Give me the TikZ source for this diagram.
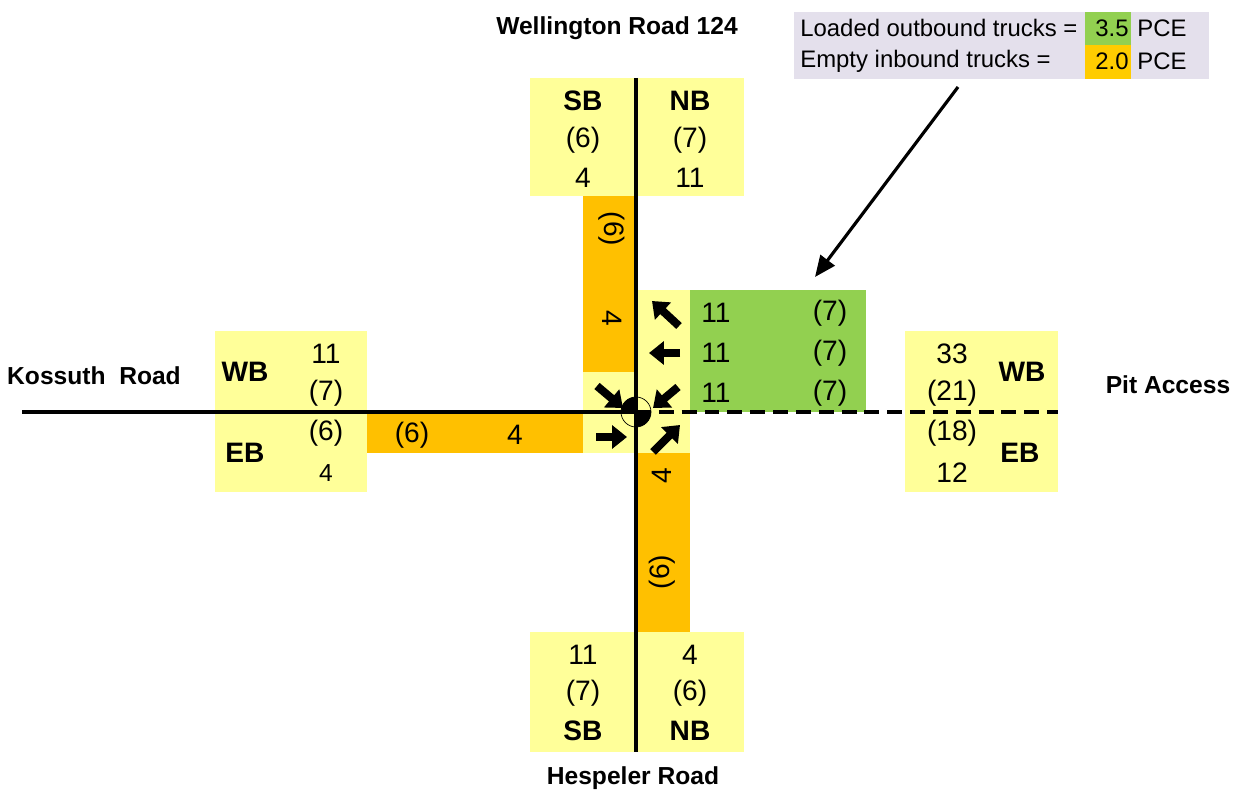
\documentclass[tikz,border=0pt]{standalone}
\usepackage{fontspec}
\setmainfont{Liberation Sans}
\usepackage{xcolor}
\usetikzlibrary{arrows.meta}

\definecolor{boxyellow}{HTML}{FFFF99}
\definecolor{trkorange}{HTML}{FFC000}
\definecolor{trkgreen}{HTML}{92D050}
\definecolor{legendbg}{HTML}{E4E0EC}
\definecolor{legendorange}{HTML}{FFCC00}

\begin{document}
\begin{tikzpicture}[
    x=0.02cm, y=-0.02cm,
    num/.style = {inner sep=0pt, font=\fontsize{16}{18}\selectfont},
    dir/.style = {num, font=\bfseries\fontsize{16}{18}\selectfont},
    road/.style = {inner sep=0pt, font=\bfseries\fontsize{14}{16}\selectfont},
    legtext/.style = {inner sep=0pt, anchor=west, font=\fontsize{13.6}{16}\selectfont},
    roadline/.style = {line width=2pt},
    turn/.style = {line width=4.6pt, -{Triangle[width=13pt,length=8.5pt]}},
    pointer/.style = {line width=1.8pt, -{Triangle[width=10pt,length=12pt]}}
  ]
    \useasboundingbox (0,0) rectangle (1233,804);

    % boxes
    \fill[boxyellow] (530,78) rectangle (744,196);   % north approach
    \fill[boxyellow] (530,632) rectangle (744,752);  % south approach
    \fill[boxyellow] (215,331) rectangle (367,492);  % west approach
    \fill[boxyellow] (905,331) rectangle (1058,492); % east approach
    \fill[boxyellow] (583,372) rectangle (636,453);
    \fill[boxyellow] (636,290) rectangle (690,453);
    \fill[trkorange] (583,196) rectangle (636,372);
    \fill[trkorange] (367,412) rectangle (583,453);
    \fill[trkorange] (636,453) rectangle (690,632);
    \fill[trkgreen] (690,290) rectangle (866,412);

    % roads
    \coordinate (north end) at (636,78);
    \coordinate (south end) at (636,752);
    \coordinate (west end) at (22,412);
    \coordinate (east end) at (1058,412);
    \coordinate (centre) at (636,412);
    \draw[roadline] (north end) -- (south end);
    \draw[roadline] (west end) -- (centre);
    \draw[roadline, dash pattern=on 8.5pt off 4.5pt] (centre) -- (east end);

    % road names
    \node[road] (wellington) at (617,28) {Wellington Road 124};
    \node[road] (hespeler) at (633,778) {Hespeler Road};
    \node[road] (kossuth) at (94,376) {Kossuth\ \ Road};
    \node[road] (pit) at (1168,385) {Pit Access};

    % north approach
    \node[dir] (sb top) at (583,101) {SB};
    \node[num] (sb top pk) at (583,140) {(6)};
    \node[num] (sb top am) at (583,178) {4};
    \node[dir] (nb top) at (690,101) {NB};
    \node[num] (nb top pk) at (690,140) {(7)};
    \node[num] (nb top am) at (690,178) {11};
    \node[num, rotate=-90] (sb in pk) at (612,229) {(6)};
    \node[num, rotate=-90] (sb in am) at (612,318) {4};

    % south approach
    \node[num] (sb bot am) at (583,655) {11};
    \node[num] (sb bot pk) at (583,693) {(7)};
    \node[dir] (sb bot) at (583,731) {SB};
    \node[num] (nb bot am) at (690,655) {4};
    \node[num] (nb bot pk) at (690,693) {(6)};
    \node[dir] (nb bot) at (690,731) {NB};
    \node[num, rotate=90] (nb out am) at (662,476) {4};
    \node[num, rotate=90] (nb out pk) at (662,572) {(6)};

    % west approach
    \node[dir] (wb left) at (245,372) {WB};
    \node[dir] (eb left) at (245,453) {EB};
    \node[num] (wb left am) at (326,354) {11};
    \node[num] (wb left pk) at (326,393) {(7)};
    \node[num] (eb left pk) at (326,433) {(6)};
    \node[num, font=\fontsize{14}{16}\selectfont] (eb left am) at (326,473) {4};
    \node[num] (eb in pk) at (412,435) {(6)};
    \node[num] (eb in am) at (515,435) {4};

    % east approach
    \node[num] (wb right am) at (952,354) {33};
    \node[num] (wb right pk) at (952,393) {(21)};
    \node[num] (eb right pk) at (952,433) {(18)};
    \node[num] (eb right am) at (952,473) {12};
    \node[dir] (wb right) at (1022,372) {WB};
    \node[dir] (eb right) at (1020,453) {EB};
    \foreach \y/\n in {313/1, 353/2, 393/3} {
        \node[num] (wb am \n) at (716,\y) {11};
        \node[num] (wb pk \n) at (830,\y) {(7)};
    }

    % turning movements
    \draw[turn] (679,326) -- (652,301);  % WB right
    \draw[turn] (680,353) -- (649,353);  % WB through
    \draw[turn] (678,387) -- (653,408);  % WB left
    \draw[turn] (653,452) -- (680,425);  % NB right
    \draw[turn] (597,386) -- (623,408);  % SB left
    \draw[turn] (596,437) -- (627,437);  % EB right

    % intersection symbol
    \fill (centre) -- ++(-0.3cm,0) arc[start angle=180, end angle=90, radius=0.3cm] -- cycle;
    \fill (centre) -- ++(0.3cm,0) arc[start angle=0, end angle=-90, radius=0.3cm] -- cycle;
    \draw[thin] (centre) circle[radius=0.3cm];

    % legend
    \fill[legendbg] (794,12) rectangle (1209,79);
    \fill[trkgreen] (1085,12) rectangle (1131,45);
    \fill[legendorange] (1085,45) rectangle (1131,79);
    \node[legtext] (legend loaded) at (800,28) {Loaded outbound trucks =};
    \node[legtext] (legend empty) at (800,61) {Empty inbound trucks =};
    \node[legtext, anchor=east] (legend pce1) at (1129,28) {3.5};
    \node[legtext, anchor=east] (legend pce2) at (1129,61) {2.0};
    \node[legtext] (legend unit1) at (1137,28) {PCE};
    \node[legtext] (legend unit2) at (1137,61) {PCE};
    \coordinate (ptr tail) at (958,87);
    \coordinate (ptr head) at (815,277);
    \draw[pointer] (ptr tail) -- (ptr head);
\end{tikzpicture}
\end{document}
